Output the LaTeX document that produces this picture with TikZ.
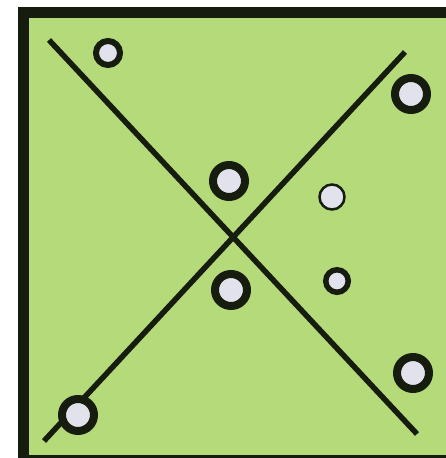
\documentclass[tikz,border=0pt]{standalone}
\usepackage{tikz}
\definecolor{fieldgreen}{RGB}{180,218,122}
\definecolor{inkdark}{RGB}{22,28,14}
\definecolor{dotfill}{RGB}{226,226,236}

\begin{document}
\begin{tikzpicture}[x=1pt,y=-1pt,
    dot/.style={circle,draw=inkdark,fill=dotfill,inner sep=0pt,
      line width=8pt,minimum size=32pt},
    smalldot/.style={circle,draw=inkdark,fill=dotfill,inner sep=0pt,
      line width=5.5pt,minimum size=22.5pt},
    thindot/.style={circle,draw=inkdark,fill=dotfill,inner sep=0pt,
      line width=2.5pt,minimum size=25pt},
    cut/.style={draw=inkdark,line width=5.5pt}
  ]
    \useasboundingbox (0,0) rectangle (446,458);
    \clip (0,0) rectangle (446,458);
    \draw[draw=inkdark,fill=fieldgreen,line width=11pt] (23.5,12.5) rectangle (451,460);
    \coordinate (a1) at (49,40);
    \coordinate (a2) at (417,434);
    \coordinate (b1) at (44,441);
    \coordinate (b2) at (405,52);
    \draw[cut] (a1) -- (a2);
    \draw[cut] (b1) -- (b2);
    \node[smalldot,minimum size=24pt,line width=6pt] (p1) at (108,53) {};
    \node[dot] (p2) at (411,94) {};
    \node[dot] (p3) at (229,181) {};
    \node[thindot] (p4) at (332,197) {};
    \node[dot] (p5) at (231,290) {};
    \node[smalldot] (p6) at (337,281) {};
    \node[dot] (p7) at (413,373) {};
    \node[dot] (p8) at (78,415) {};
  \end{tikzpicture}
\end{document}
